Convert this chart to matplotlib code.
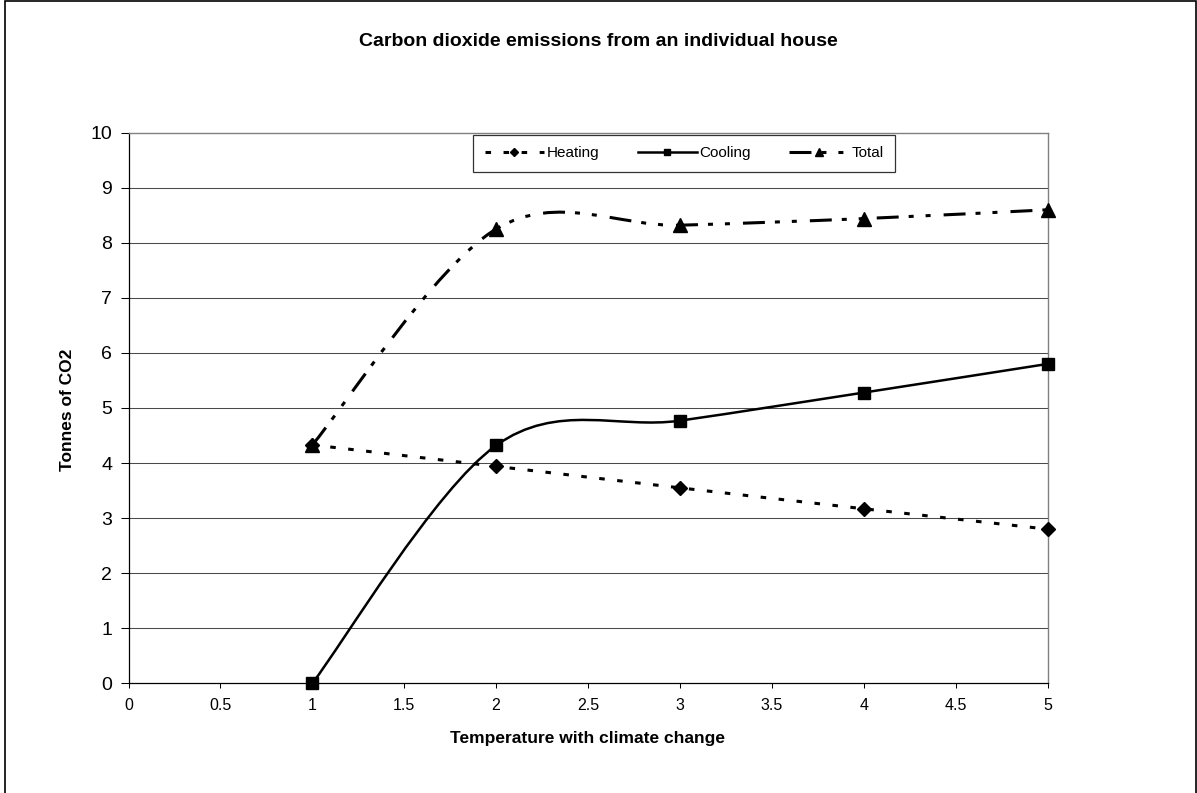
import numpy as np
import matplotlib
matplotlib.use('Agg')
import matplotlib.pyplot as plt
from matplotlib.path import Path
from matplotlib.patches import PathPatch, Rectangle
from matplotlib.lines import Line2D

plt.rcParams['font.family'] = ['Liberation Sans', 'DejaVu Sans']
plt.rcParams['lines.scale_dashes'] = False

# values
temperature = [1, 2, 3, 4, 5]
heating = [4.33, 3.94, 3.55, 3.17, 2.80]
cooling = [0.0, 4.32, 4.77, 5.28, 5.80]
total = [4.33, 8.25, 8.32, 8.44, 8.60]

x_ticks = [0, 0.5, 1, 1.5, 2, 2.5, 3, 3.5, 4, 4.5, 5]
x_tick_labels = ['0', '0.5', '1', '1.5', '2', '2.5', '3', '3.5', '4', '4.5', '5']
y_ticks = [0, 1, 2, 3, 4, 5, 6, 7, 8, 9, 10]


def smooth_path(xs, ys):
    # Excel style smoothed line: cubic bezier, control points from the neighbours
    pts = np.column_stack([xs, ys]).astype(float)
    ext = np.vstack([pts[0], pts, pts[-1]])
    verts = [pts[0]]
    codes = [Path.MOVETO]
    for i in range(len(pts) - 1):
        p_prev, p0, p1, p_next = ext[i], ext[i + 1], ext[i + 2], ext[i + 3]
        verts += [p0 + (p1 - p_prev) / 6, p1 - (p_next - p0) / 6, p1]
        codes += [Path.CURVE4] * 3
    return Path(verts, codes)


W, H = 1197, 793
fig = plt.figure(figsize=(W / 100, H / 100), dpi=100)
ax_l, ax_r, ax_t, ax_b = 128.5, 1047.5, 132.7, 683.3
ax = fig.add_axes([ax_l / W, 1 - ax_b / H, (ax_r - ax_l) / W, (ax_b - ax_t) / H])

series = [
    ('Heating', heating, (0, (4.0, 9.0)), 2.2, 'D', 7.5),
    ('Cooling', cooling, '-', 1.8, 's', 9),
    ('Total', total, (0, (15.8, 7.2, 3.6, 8.6, 3.6, 9.4)), 2.2, '^', 10),
]

handles = []
for name, vals, ls, lw, mk, ms in series:
    patch = PathPatch(smooth_path(temperature, vals), fill=False, edgecolor='black',
                      lw=lw, linestyle=ls, capstyle='butt', joinstyle='round',
                      clip_on=False, zorder=3)
    ax.add_patch(patch)
    ax.plot(temperature, vals, linestyle='none', marker=mk, ms=ms, color='black',
            mec='black', mew=1, clip_on=False, zorder=4)
    handles.append(Line2D([], [], color='black', lw=lw, linestyle=ls, marker=mk,
                          ms=ms, dash_capstyle='butt', label=name))

ax.set_xlim(0, 5)
ax.set_ylim(0, 10)
ax.set_xticks(x_ticks)
ax.set_xticklabels(x_tick_labels)
ax.set_yticks(y_ticks)

for y in y_ticks[1:-1]:
    ax.axhline(y, color='#4a4a4a', lw=0.75, zorder=1)

ax.spines['left'].set_color('black')
ax.spines['bottom'].set_color('black')
ax.spines['left'].set_linewidth(0.9)
ax.spines['bottom'].set_linewidth(0.9)
ax.spines['top'].set_color('#808080')
ax.spines['right'].set_color('#808080')
ax.spines['top'].set_linewidth(1.0)
ax.spines['right'].set_linewidth(1.0)

ax.tick_params(axis='x', direction='out', length=3.6, width=0.75, pad=7, labelsize=11.5)
ax.tick_params(axis='y', direction='out', length=5.8, width=0.75, pad=6, labelsize=14)

leg = ax.legend(handles=handles, loc='upper left', ncol=3, mode='expand',
                bbox_to_anchor=(0.375, 0.929, 0.459, 0.067), borderaxespad=0,
                fontsize=11, frameon=True, fancybox=False, edgecolor='black',
                handlelength=3.9, handletextpad=0.15, columnspacing=1.8,
                markerscale=0.55, borderpad=0.75)
leg.get_frame().set_linewidth(0.9)

fig.text(0.5, 1 - 41 / H, 'Carbon dioxide emissions from an individual house',
         ha='center', va='center', fontsize=14, fontweight='bold')
fig.text((ax_l + ax_r) / 2 / W, 1 - 738 / H, 'Temperature with climate change',
         ha='center', va='center', fontsize=12.5, fontweight='bold')
fig.text(68 / W, 1 - 410 / H, 'Tonnes of CO2', rotation=90,
         ha='center', va='center', fontsize=12.5, fontweight='bold')

fig.patches.append(Rectangle((4.5 / W, -0.05), (1196 - 4.5) / W, 1.05 - 1.5 / H,
                             transform=fig.transFigure, fill=False,
                             edgecolor='black', lw=1.2))

fig.savefig('out.png', dpi=100)
